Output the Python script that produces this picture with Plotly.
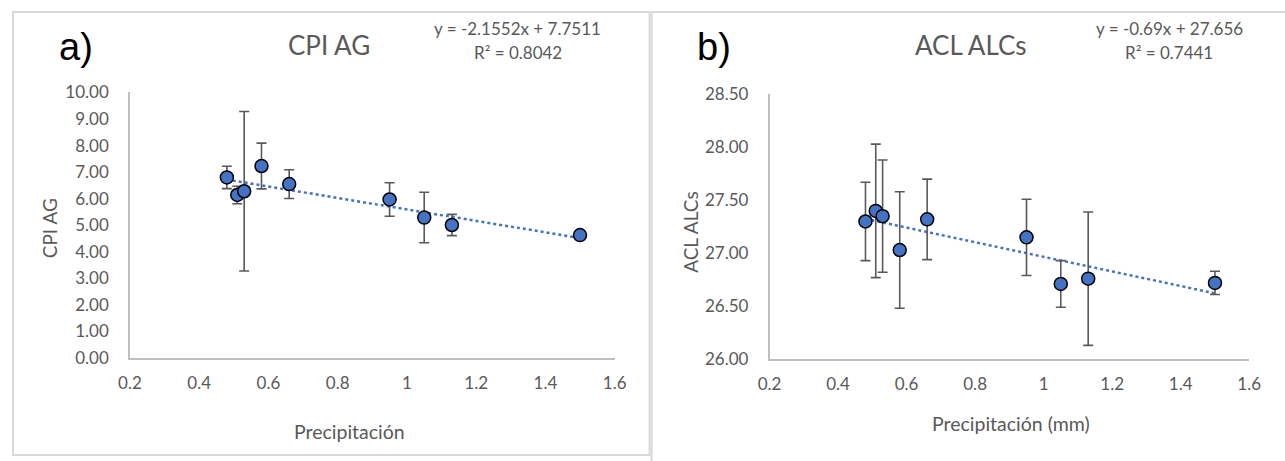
import plotly.graph_objects as go

# Mapping from target picture pixels to figure pixels (measured from earlier renders)
SX, SY, OX, OY = 0.982, 0.956, 10.0, 9.5
W = 1290
H = 466

# ---- data ----
precip = [0.48, 0.51, 0.53, 0.58, 0.66, 0.95, 1.05, 1.13, 1.50]
cpi_ag = [6.80, 6.14, 6.28, 7.23, 6.55, 5.97, 5.29, 5.01, 4.63]
cpi_ag_err = [0.42, 0.33, 3.00, 0.86, 0.54, 0.63, 0.95, 0.40, 0.05]
acl_alcs = [27.30, 27.40, 27.35, 27.03, 27.32, 27.15, 26.71, 26.76, 26.72]
acl_alcs_err = [0.37, 0.63, 0.53, 0.55, 0.38, 0.36, 0.22, 0.63, 0.11]
fit_a = (-2.1552, 7.7511, 0.8042)   # slope, intercept, R2
fit_b = (-0.69, 27.656, 0.7441)
x_ticks = [0.2, 0.4, 0.6, 0.8, 1.0, 1.2, 1.4, 1.6]

GRAY_TXT = "#595959"
AXIS_COL = "#BFBFBF"
BLUE = "#4472C4"
FONT = "Lato, Liberation Sans, sans-serif"

def px(x):
    return ((x - OX) / SX) / W

def py(y):
    return 1 - ((y - OY) / SY) / H

fig = go.Figure()

def add_panel(xa, ya, yvals, yerr, fit):
    fig.add_trace(go.Scatter(
        x=[min(precip), max(precip)],
        y=[fit[0] * min(precip) + fit[1], fit[0] * max(precip) + fit[1]],
        mode="lines", line=dict(color=BLUE, width=2.5, dash="dot"),
        xaxis=xa, yaxis=ya, showlegend=False, hoverinfo="skip"))
    fig.add_trace(go.Scatter(
        x=precip, y=yvals, mode="markers",
        marker=dict(size=13, color=BLUE, line=dict(color="black", width=1.5)),
        error_y=dict(type="data", array=yerr, visible=True, color=GRAY_TXT,
                     thickness=1.6, width=5),
        xaxis=xa, yaxis=ya, showlegend=False))

add_panel("x", "y", cpi_ag, cpi_ag_err, fit_a)
add_panel("x2", "y2", acl_alcs, acl_alcs_err, fit_b)

tickfont = dict(family=FONT, size=17, color=GRAY_TXT)
xcommon = dict(range=[0.2, 1.6], tickvals=x_ticks, showgrid=False, zeroline=False,
               showline=True, linecolor=AXIS_COL, linewidth=1.5, ticks="",
               tickfont=tickfont, ticklabelstandoff=9)
ycommon = dict(showgrid=False, zeroline=False, showline=True, linecolor=AXIS_COL,
               linewidth=1.5, ticks="", tickfont=tickfont, ticklabelstandoff=16,
               tickformat=".2f")

fig.update_layout(
    width=W, height=H, margin=dict(l=0, r=0, t=0, b=0),
    paper_bgcolor="white", plot_bgcolor="white",
    xaxis=dict(domain=[px(128), px(613)], anchor="y", **xcommon),
    yaxis=dict(domain=[py(357), py(91)], anchor="x", range=[0, 10], dtick=1, **ycommon),
    xaxis2=dict(domain=[px(768), px(1248)], anchor="y2", **xcommon),
    yaxis2=dict(domain=[py(358), py(93)], anchor="x2", range=[26, 28.5], dtick=0.5, **ycommon),
)

def ann(x, y, text, size, color=GRAY_TXT, angle=0, family=FONT):
    fig.add_annotation(x=px(x), y=py(y), xref="paper", yref="paper", text=text,
                       showarrow=False, textangle=angle, xanchor="center", yanchor="middle",
                       font=dict(family=family, size=size, color=color))

# panel a
ann(74, 46, "a)", 38, "black", family="Liberation Sans, Arial, sans-serif")
ann(327, 44, "CPI AG", 26)
ann(516, 27, f"y = {fit_a[0]}x + {fit_a[1]}", 17)
ann(516, 51, f"R² = {fit_a[2]}", 17)
ann(47, 227, "CPI AG", 19, angle=-90)
ann(348, 430, "Precipitación", 19.5)

# panel b
ann(712, 46, "b)", 38, "black", family="Liberation Sans, Arial, sans-serif")
ann(970, 44, "ACL ALCs", 26)
ann(1168, 27, f"y = {fit_b[0]}x + {fit_b[1]}", 17)
ann(1168, 51, f"R² = {fit_b[2]}", 17)
ann(689, 231, "ACL ALCs", 19, angle=-90)
ann(1010, 422, "Precipitación (mm)", 19.5)

# panel frames
for x0, x1, y0, y1 in [(OX + 1, 648, OY + 1, 454), (650, 1340, OY + 1, 520)]:
    fig.add_shape(type="rect", xref="paper", yref="paper",
                  x0=px(x0), x1=px(x1), y0=py(y1), y1=py(y0),
                  line=dict(color="#D9D9D9", width=2), fillcolor="rgba(0,0,0,0)",
                  layer="below")

fig.write_html("out.html")
